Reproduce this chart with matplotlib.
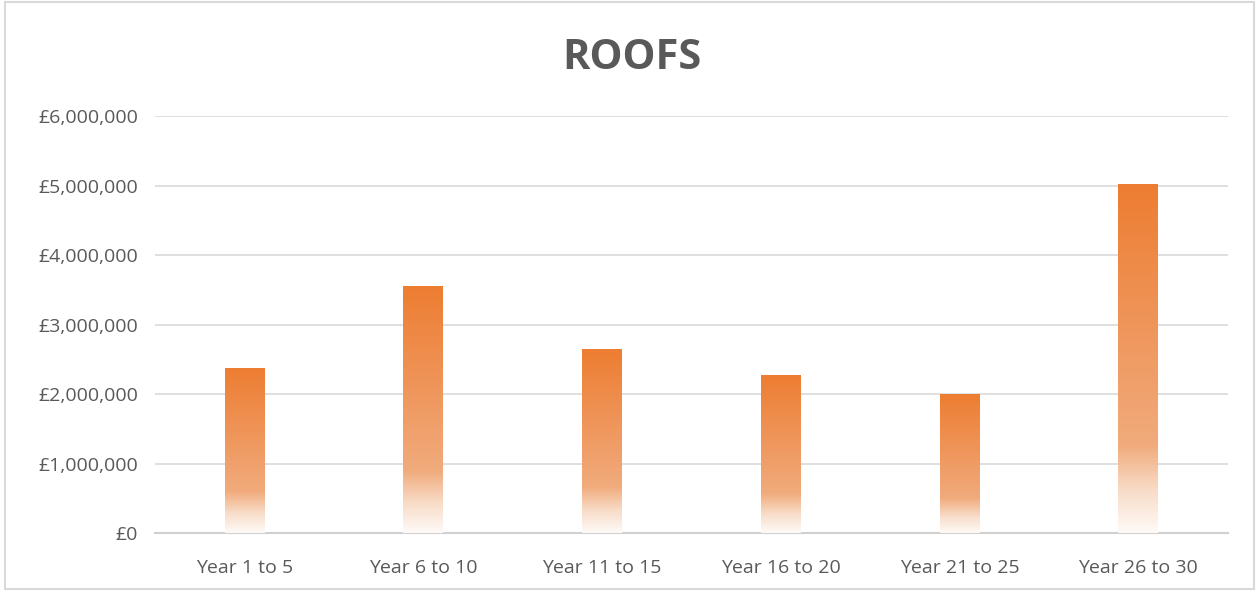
import numpy as np
import matplotlib.pyplot as plt
from matplotlib.colors import LinearSegmentedColormap
from matplotlib.ticker import FuncFormatter
from matplotlib.patches import Rectangle

# data
periods = ['Year 1 to 5', 'Year 6 to 10', 'Year 11 to 15',
           'Year 16 to 20', 'Year 21 to 25', 'Year 26 to 30']
costs = [2380000, 3550000, 2650000, 2280000, 2000000, 5030000]

plt.rcParams['font.family'] = ['Open Sans', 'DejaVu Sans']

fig = plt.figure(figsize=(12.59, 5.93), dpi=100)
ax = fig.add_axes([0.123, 0.101, 0.852, 0.703])

# orange fading to white near the bottom of each bar
cmap = LinearSegmentedColormap.from_list('fade', [
    (0.0, '#fefaf7'), (0.12, '#f8dcc8'), (0.25, '#f1ab7c'),
    (0.6, '#ef955a'), (1.0, '#ed7d31')])
grad = np.linspace(0, 1, 256).reshape(-1, 1)

x = np.arange(len(periods))
bars = ax.bar(x, costs, width=0.22, color='none', edgecolor='none', zorder=3)
for b in bars:
    x0, w, h = b.get_x(), b.get_width(), b.get_height()
    im = ax.imshow(grad, cmap=cmap, origin='lower', aspect='auto',
                   extent=[x0, x0 + w, 0, h], zorder=3)
    im.set_clip_path(b)

ax.set_xlim(-0.5, len(periods) - 0.5)
ax.set_ylim(0, 6000000)
ax.set_yticks(np.arange(0, 6000001, 1000000))
ax.yaxis.set_major_formatter(FuncFormatter(lambda v, p: '£{:,.0f}'.format(v)))
ax.set_xticks(x)
ax.set_xticklabels(periods)

ax.grid(axis='y', color='#d9d9d9', linewidth=1.2, zorder=0)
for s in ['top', 'right', 'left']:
    ax.spines[s].set_visible(False)
ax.spines['bottom'].set_color('#d0d0d0')
ax.spines['bottom'].set_linewidth(1.5)
ax.tick_params(length=0, colors='#595959', labelsize=14)
ax.tick_params(axis='x', pad=19)
ax.tick_params(axis='y', pad=12)

fig.text(0.502, 0.902, 'ROOFS', ha='center', va='center', fontsize=30,
         fontweight='bold', color='#595959')

fig.patches.append(Rectangle((0.004, 0.006), 0.992, 0.99, transform=fig.transFigure,
                             fill=False, edgecolor='#d9d9d9', linewidth=1.5))

fig.savefig('out.png', dpi=100)
